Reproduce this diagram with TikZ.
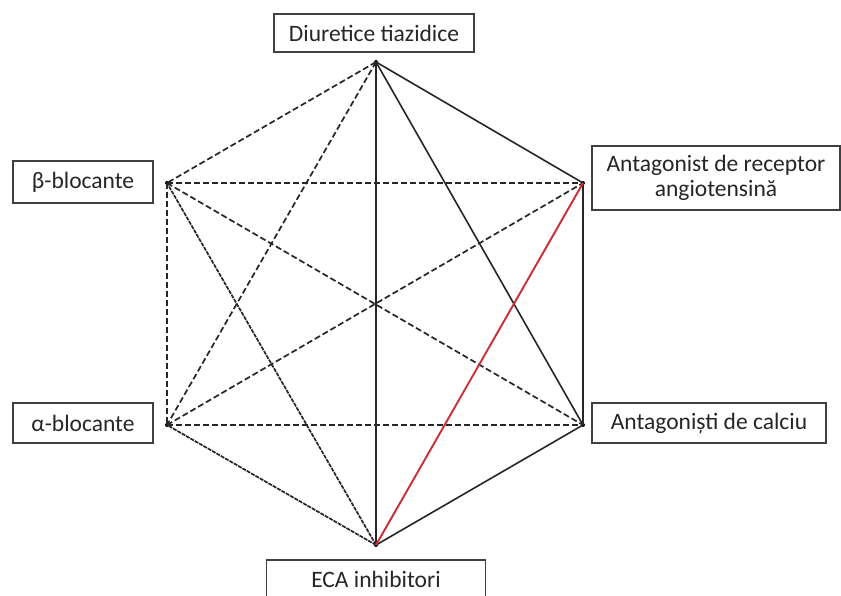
\documentclass[tikz,border=0pt]{standalone}
\usepackage{fontspec}
\setmainfont{Carlito}
\begin{document}
\begin{tikzpicture}[x=1pt,y=-1pt,
  lbl/.style={draw=black!75,line width=1.6pt,fill=white,font=\fontsize{23.5}{26}\selectfont,text=black!85,inner sep=0pt,align=center},
  solidline/.style={draw=black!85,line width=1.6pt},
  dashline/.style={draw=black!85,line width=1.7pt,dash pattern=on 6pt off 3pt},
  fineline/.style={draw=black!85,line width=1.7pt,dash pattern=on 4pt off 1pt},
  redline/.style={draw={rgb,255:red,205;green,45;blue,55},line width=1.9pt},
  vtx/.style={circle,fill=black,inner sep=0pt,minimum size=4pt}]
\useasboundingbox (0,0) rectangle (841,596);
\clip (0,0) rectangle (841,596);
\fill[white] (0,0) rectangle (841,596);
% vertices
\node[vtx] (T)  at (376,62) {};
\node[vtx] (UR) at (583,183) {};
\node[vtx] (LR) at (583,425) {};
\node[vtx] (B)  at (376,545) {};
\node[vtx] (LL) at (167,425) {};
\node[vtx] (UL) at (167,183) {};
% edges
\draw[dashline] (T.center) -- (UL.center);
\draw[dashline] (T.center) -- (LL.center);
\draw[dashline] (UL.center) -- (UR.center);
\draw[dashline] (UL.center) -- (LR.center);
\draw[dashline] (UL.center) -- (LL.center);
\draw[dashline] (LL.center) -- (UR.center);
\draw[dashline] (LL.center) -- (LR.center);
\draw[fineline] (B.center) -- (UL.center);
\draw[fineline] (B.center) -- (LL.center);
\draw[solidline] (T.center) -- (UR.center);
\draw[solidline] (T.center) -- (LR.center);
\draw[solidline] (T.center) -- (B.center);
\draw[solidline] (UR.center) -- (LR.center);
\draw[solidline] (LR.center) -- (B.center);
\draw[redline] (UR.center) -- (B.center);
% labels
\node[lbl,minimum width=200pt,minimum height=38pt] (tl) at (374,33) {Diuretice tiazidice};
\node[lbl,minimum width=140pt,minimum height=42pt] (bl) at (83,182) {β-blocante};
\node[lbl,minimum width=248pt,minimum height=64pt] (arl) at (716,178) {Antagonist de receptor\\[-1pt]angiotensină};
\node[lbl,minimum width=140pt,minimum height=40pt] (al) at (83,423) {α-blocante};
\node[lbl,minimum width=234pt,minimum height=40pt] (cl) at (709,423) {Antagoniști de calciu};
\node[lbl,minimum width=219pt,minimum height=40pt,text height=15pt] (el) at (376,580) {ECA inhibitori};
\end{tikzpicture}
\end{document}
